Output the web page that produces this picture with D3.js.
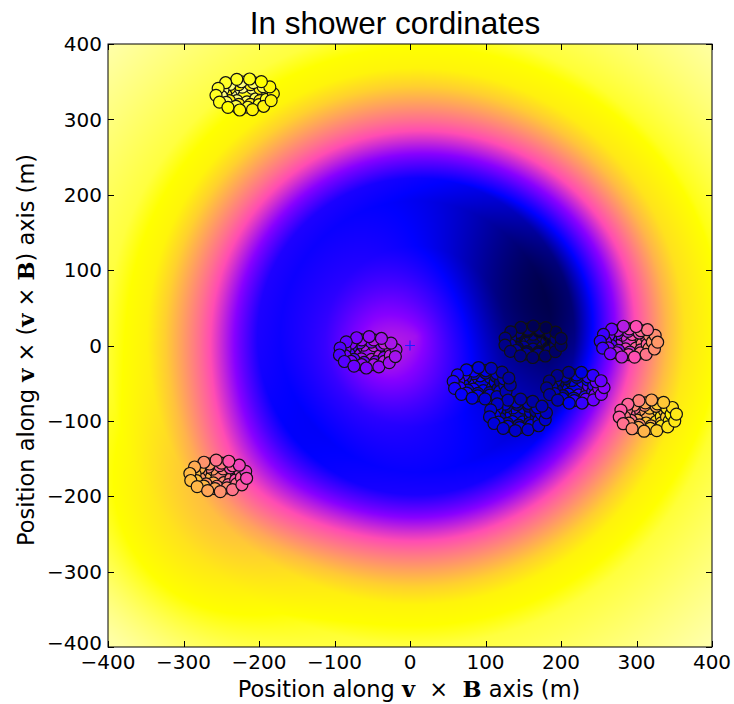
<!DOCTYPE html>
<html>
<head>
<meta charset="utf-8">
<script src="https://cdn.jsdelivr.net/npm/d3@7"></script>
<style>
  body { margin: 0; background: #fff; }
  svg text { fill: #000; }
</style>
</head>
<body>
<div class="chart"></div>
<script>
    var svgWidth = 734;
    var svgHeight = 704;

    var margin = { top: 44, right: 22, bottom: 57, left: 108 };
    var width = svgWidth - margin.left - margin.right;
    var height = svgHeight - margin.top - margin.bottom;

    // tick values (m)
    var xTicks = [-400, -300, -200, -100, 0, 100, 200, 300, 400];
    var yTicks = [-400, -300, -200, -100, 0, 100, 200, 300, 400];

    // centres of the antenna stations (m, shower plane)
    var stationX = [-219, -56, -254, 290, 315, 163, 95, 219, 143];
    var stationY = [333, -9, -173, 5, -93, 5, -50, -56, -92];

    // layout of one station: rings of antennas [radius m, count, phase deg]
    var stationRings = [[18, 8, 10], [25, 10, 0], [31, 12, 8], [38, 14, 3]];
    var squash = 0.55;
    // small change of the colour value seen on each ring
    var ringShift = [0.03, -0.04, 0.02, -0.01];

    // background footprint: radial profile around the core
    var coreCentre = [8, 12];
    var profileR = [0, 60, 120, 180, 210, 233, 260, 286, 310, 332, 356, 410, 490, 570];
    var profileV = [0.47, 0.40, 0.31, 0.27, 0.29, 0.39, 0.52, 0.64, 0.74, 0.83, 0.9, 0.94, 0.958, 0.975];
    // dark lobe, bright centre spot, lower-left lobe: [x, y, sigma, amplitude]
    var lobes = [[160, 55, 110, -0.2], [-35, -8, 45, 0.09], [-245, -205, 90, -0.11]];

    var svg = d3.select(".chart")
        .append("svg")
        .attr("width", svgWidth)
        .attr("height", svgHeight);

    var chartGroup = svg.append("g")
        .attr("transform", `translate(${margin.left}, ${margin.top})`);

    var xScale = d3.scaleLinear().domain([-400, 400]).range([0, width]);
    var yScale = d3.scaleLinear().domain([-400, 400]).range([height, 0]);
    var profile = d3.scaleLinear().domain(profileR).range(profileV).clamp(true);

    function gnuplot2(t) {
        var c = v => Math.max(0, Math.min(1, v));
        var r = c(t / 0.32 - 0.78125);
        var g = c(2 * t - 0.84);
        var b = c(t < 0.25 ? 4 * t : t < 0.42 ? 1 : t < 0.92 ? -2 * t + 1.84 : t / 0.08 - 11.5);
        return [Math.round(r * 255), Math.round(g * 255), Math.round(b * 255)];
    }
    var colour = d3.scaleSequential(t => d3.rgb(...gnuplot2(t)) + "").domain([0, 1]);

    function field(x, y) {
        var r = Math.hypot(x - coreCentre[0], y - coreCentre[1]);
        var v = profile(r);
        lobes.forEach(function(l) {
            var d2 = (x - l[0]) * (x - l[0]) + (y - l[1]) * (y - l[1]);
            v += l[3] * Math.exp(-d2 / (2 * l[2] * l[2]));
        });
        return v;
    }

    // background image
    var canvas = document.createElement("canvas");
    canvas.width = width;
    canvas.height = height;
    var ctx = canvas.getContext("2d");
    var img = ctx.createImageData(width, height);
    for (var j = 0; j < height; j++) {
        for (var i = 0; i < width; i++) {
            var col = gnuplot2(field(xScale.invert(i + 0.5), yScale.invert(j + 0.5)));
            var k = (j * width + i) * 4;
            img.data[k] = col[0];
            img.data[k + 1] = col[1];
            img.data[k + 2] = col[2];
            img.data[k + 3] = 255;
        }
    }
    ctx.putImageData(img, 0, 0);

    chartGroup.append("image")
        .attr("x", 0).attr("y", 0)
        .attr("width", width).attr("height", height)
        .attr("preserveAspectRatio", "none")
        .attr("href", canvas.toDataURL());

    // antennas
    var antennas = [];
    stationX.forEach(function(sx, s) {
        stationRings.forEach(function(ring, ri) {
            for (var n = 0; n < ring[1]; n++) {
                var ang = (ring[2] + s * 7 + n * 360 / ring[1]) * Math.PI / 180;
                var x = sx + ring[0] * Math.cos(ang);
                var y = stationY[s] + ring[0] * Math.sin(ang) * squash;
                antennas.push({ x: x, y: y, v: field(x, y) + ringShift[ri] });
            }
        });
    });

    chartGroup.selectAll("circle")
        .data(antennas)
        .enter()
        .append("circle")
        .attr("cx", d => xScale(d.x))
        .attr("cy", d => yScale(d.y))
        .attr("r", 6)
        .attr("fill", d => colour(d.v))
        .attr("stroke", "#111")
        .attr("stroke-width", 1.2);

    // core marker
    chartGroup.append("path")
        .attr("d", `M${xScale(0) - 5},${yScale(0)}h10M${xScale(0)},${yScale(0) - 5}v10`)
        .attr("stroke", "#1f1fff")
        .attr("stroke-width", 1.2);

    // frame + inward ticks on all sides
    chartGroup.append("rect")
        .attr("width", width).attr("height", height)
        .attr("fill", "none").attr("stroke", "#000").attr("stroke-width", 1);

    var tickLen = 6;
    var ax = chartGroup.append("g").attr("stroke", "#000").attr("stroke-width", 1);
    xTicks.forEach(function(t) {
        var x = Math.round(xScale(t)) + 0.5;
        ax.append("line").attr("x1", x).attr("x2", x).attr("y1", height).attr("y2", height - tickLen);
        ax.append("line").attr("x1", x).attr("x2", x).attr("y1", 0).attr("y2", tickLen);
    });
    yTicks.forEach(function(t) {
        var y = Math.round(yScale(t)) + 0.5;
        ax.append("line").attr("y1", y).attr("y2", y).attr("x1", 0).attr("x2", tickLen);
        ax.append("line").attr("y1", y).attr("y2", y).attr("x1", width).attr("x2", width - tickLen);
    });

    var fmt = d => (d < 0 ? "\u2212" + Math.abs(d) : "" + d);

    chartGroup.selectAll(".xlab")
        .data(xTicks).enter().append("text")
        .attr("x", d => xScale(d))
        .attr("y", height + 22)
        .attr("text-anchor", "middle")
        .style("font", "20px 'DejaVu Sans'")
        .text(fmt);

    chartGroup.selectAll(".ylab")
        .data(yTicks).enter().append("text")
        .attr("x", -6)
        .attr("y", d => yScale(d) - (d === -400 ? 4 : 0))
        .attr("dy", "0.36em")
        .attr("text-anchor", "end")
        .style("font", "20px 'DejaVu Sans'")
        .text(fmt);

    // title
    svg.append("text")
        .attr("x", 395).attr("y", 34)
        .attr("text-anchor", "middle")
        .style("font", "31.5px 'Liberation Sans'")
        .text("In shower cordinates");

    function mathLabel(sel, parts) {
        parts.forEach(function(p) {
            sel.append("tspan")
                .style("font-family", p[1] ? "'DejaVu Serif'" : "'DejaVu Sans'")
                .style("font-weight", p[1] ? "bold" : "normal")
                .text(p[0]);
        });
    }

    var xl = svg.append("text")
        .attr("x", 409).attr("y", 697)
        .attr("text-anchor", "middle")
        .style("font-size", "22.5px")
        .attr("xml:space", "preserve");
    mathLabel(xl, [["Position along ", 0], ["v", 1], ["  \u00d7  ", 0], ["B", 1], [" axis (m)", 0]]);

    var yl = svg.append("text")
        .attr("transform", "translate(34, 350) rotate(-90)")
        .attr("text-anchor", "middle")
        .style("font-size", "22.5px")
        .attr("xml:space", "preserve");
    mathLabel(yl, [["Position along ", 0], ["v", 1], [" \u00d7 (", 0], ["v", 1], [" \u00d7 ", 0], ["B", 1], [") axis (m)", 0]]);
</script>
</body>
</html>
